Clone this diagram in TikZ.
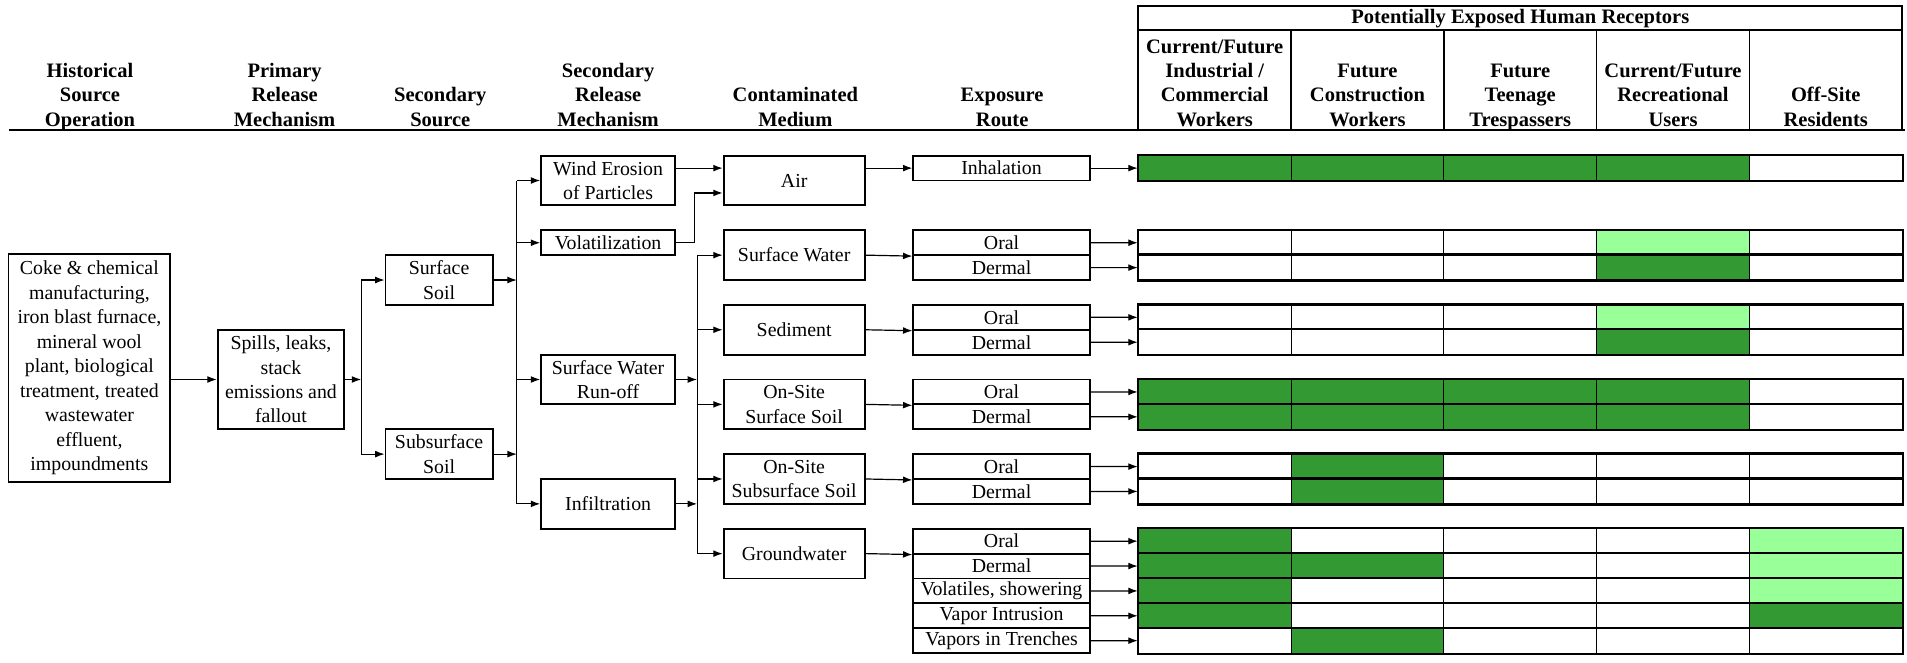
\documentclass[tikz,border=0pt]{standalone}
\usepackage{fontspec}
\setmainfont{Liberation Serif}
\usetikzlibrary{positioning, arrows.meta}
\definecolor{dkgreen}{RGB}{51,153,51}
\definecolor{ltgreen}{RGB}{153,255,153}
\newcommand{\bodysize}{\fontsize{11.6}{14.3}\selectfont}
\newcommand{\headsize}{\fontsize{12}{14.3}\selectfont\bfseries}

\begin{document}
\begin{tikzpicture}[>={Latex[length=5.5pt,width=4pt]}, inner sep=1pt,
    box/.style={draw, line width=1.1pt, align=center, font=\bodysize},
    route/.style={box, minimum width=3.625cm, minimum height=0.51125cm},
    medium/.style={box, minimum width=2.9cm, minimum height=1.0225cm},
    release/.style={box, minimum width=2.75cm},
    cell/.style={draw, line width=0.7pt, minimum width=3.14cm, minimum height=0.51125cm},
    head/.style={align=center, font=\headsize, anchor=south, text depth=3pt},
    arr/.style={->, line width=0.7pt}]
  \useasboundingbox (0,0) rectangle (39.2,13.625);
  % column headings
  \draw[line width=1.4pt] (0.175,10.95) -- (39.15,10.95);
  \node[head] (hHist) at (1.85,10.88) {Historical\\Source\\Operation};
  \node[head] (hPrim) at (5.85,10.88) {Primary\\Release\\Mechanism};
  \node[head] (hSrc) at (9.05,10.88) {Secondary\\Source};
  \node[head] (hRel) at (12.5,10.88) {Secondary\\Release\\Mechanism};
  \node[head] (hMed) at (16.35,10.88) {Contaminated\\Medium};
  \node[head] (hRoute) at (20.6,10.88) {Exposure\\Route};
  % receptor heading grid
  \draw[line width=1.1pt] (23.4,10.95) -- (23.4,13.5) -- (39.1,13.5) -- (39.1,10.95);
  \draw[line width=1.1pt] (23.4,13.0) -- (39.1,13.0);
  \foreach \x in {26.54,29.68,32.82,35.96}
    \draw[line width=0.8pt] (\x,13.0) -- (\x,10.95);
  \node[font=\headsize] (recep) at (31.25,13.25) {Potentially Exposed Human Receptors};
  \node[head] (hInd) at (24.97,10.88) {Current/Future\\Industrial /\\Commercial\\Workers};
  \node[head] (hCon) at (28.11,10.88) {Future\\Construction\\Workers};
  \node[head] (hTeen) at (31.25,10.88) {Future\\Teenage\\Trespassers};
  \node[head] (hRec) at (34.39,10.88) {Current/Future\\Recreational\\Users};
  \node[head] (hOff) at (37.53,10.88) {Off-Site\\Residents};

  % sources
  \node[box, minimum width=3.325cm, minimum height=4.675cm] (hist) at (1.8375,6.0625)
    {Coke \& chemical\\manufacturing,\\iron blast furnace,\\mineral wool\\plant, biological\\treatment, treated\\wastewater\\effluent,\\impoundments};
  \node[box, minimum width=2.6cm, minimum height=2.045cm] (spill) at (5.775,5.824)
    {Spills, leaks,\\stack\\emissions and\\fallout};
  \node[box, minimum width=2.2cm, minimum height=1.0225cm] (ssoil) at (9.025,7.869) {Surface\\Soil};
  \node[box, minimum width=2.2cm, minimum height=1.0225cm] (subsoil) at (9.025,4.290) {Subsurface\\Soil};
  % release mechanisms
  \node[release, minimum height=1.0225cm] (wind) at (12.5,9.914) {Wind Erosion\\of Particles};
  \node[release, minimum height=0.51125cm] (vol) at (12.5,8.635) {Volatilization};
  \node[release, minimum height=1.0225cm] (runoff) at (12.5,5.824) {Surface Water\\Run-off};
  \node[release, minimum height=1.0225cm] (infil) at (12.5,3.2675) {Infiltration};
  % media
  \node[medium] (air) at (16.325,9.914) {Air};
  \node[medium] (sw) at (16.325,8.380) {Surface Water};
  \node[medium] (sed) at (16.325,6.846) {Sediment};
  \node[medium] (oss) at (16.325,5.3125) {On-Site\\Surface Soil};
  \node[medium] (osb) at (16.325,3.779) {On-Site\\Subsurface Soil};
  \node[medium] (gw) at (16.325,2.245) {Groundwater};
  % exposure routes
  \node[route] (inh) at (20.5875,10.169) {Inhalation};
  \node[route] (swo) at (20.5875,8.635) {Oral};
  \node[route] (swd) at (20.5875,8.124) {Dermal};
  \node[route] (sdo) at (20.5875,7.102) {Oral};
  \node[route] (sdd) at (20.5875,6.590) {Dermal};
  \node[route] (sso) at (20.5875,5.568) {Oral};
  \node[route] (ssd) at (20.5875,5.057) {Dermal};
  \node[route] (sbo) at (20.5875,4.034) {Oral};
  \node[route] (sbd) at (20.5875,3.523) {Dermal};
  \node[route] (gwo) at (20.5875,2.500) {Oral};
  \node[route] (gwd) at (20.5875,1.989) {Dermal};
  \node[route] (gwv) at (20.5875,1.478) {Volatiles, showering};
  \node[route] (gwi) at (20.5875,0.967) {Vapor Intrusion};
  \node[route] (gwt) at (20.5875,0.455) {Vapors in Trenches};

  % receptor cells
  \foreach \r/\k/\fa/\fb/\fc/\fd/\fe in {
      inh/0/dkgreen/dkgreen/dkgreen/dkgreen/white,
      swo/3/white/white/white/ltgreen/white,
      swd/4/white/white/white/dkgreen/white,
      sdo/6/white/white/white/ltgreen/white,
      sdd/7/white/white/white/dkgreen/white,
      sso/9/dkgreen/dkgreen/dkgreen/dkgreen/white,
      ssd/10/dkgreen/dkgreen/dkgreen/dkgreen/white,
      sbo/12/white/dkgreen/white/white/white,
      sbd/13/white/dkgreen/white/white/white,
      gwo/15/dkgreen/white/white/white/ltgreen,
      gwd/16/dkgreen/dkgreen/white/white/ltgreen,
      gwv/17/dkgreen/white/white/white/ltgreen,
      gwi/18/dkgreen/white/white/white/dkgreen,
      gwt/19/white/dkgreen/white/white/white}{
    \foreach \f [count=\c] in {\fa,\fb,\fc,\fd,\fe}
      \node[cell, fill=\f] (\r-\c) at ({23.4+(\c-0.5)*3.14},{10.169-0.51125*\k}) {};
    \draw[line width=1.3pt] (\r-1.north west) rectangle (\r-5.south east);
    \draw[arr] (\r.east) -- (\r-1.west);
  }

  % source -> secondary source
  \draw[arr] (hist.east |- spill) -- (spill.west);
  \coordinate (b1) at (7.425,5.824);
  \draw[arr] (spill.east) -- (b1);
  \draw[line width=0.7pt] (b1 |- ssoil) -- (b1 |- subsoil);
  \draw[arr] (b1 |- ssoil) -- (ssoil.west);
  \draw[arr] (b1 |- subsoil) -- (subsoil.west);
  % secondary source -> release
  \coordinate (b2) at (10.625,7.869);
  \draw[arr] (ssoil.east) -- (b2);
  \draw[arr] (subsoil.east) -- (b2 |- subsoil);
  \draw[line width=0.7pt] (b2 |- wind) -- (b2 |- infil);
  \foreach \m in {wind,vol,runoff,infil}
    \draw[arr] (b2 |- \m) -- (\m.west);
  % release -> medium
  \draw[arr] (wind.east |- inh) -- (air.west |- inh);
  \draw[arr] (vol.east) -- ++(0.375,0) |- ([yshift=-0.2556cm]air.west);
  \coordinate (b4) at (14.33,5.824);
  \draw[arr] (runoff.east) -- (b4);
  \draw[arr] (infil.east) -- (b4 |- infil);
  \draw[line width=0.7pt] (b4 |- sw) -- (b4 |- gw);
  \foreach \m in {sw,sed,oss,osb,gw}
    \draw[arr] (b4 |- \m) -- (\m.west);
  % medium -> exposure route
  \draw[arr] (air.east |- inh) -- (inh.west);
  \draw[arr] (sw.east) -- (swo.south west);
  \draw[arr] (sed.east) -- (sdo.south west);
  \draw[arr] (oss.east) -- (sso.south west);
  \draw[arr] (osb.east) -- (sbo.south west);
  \draw[arr] (gw.east) -- (gwo.south west);
\end{tikzpicture}
\end{document}
